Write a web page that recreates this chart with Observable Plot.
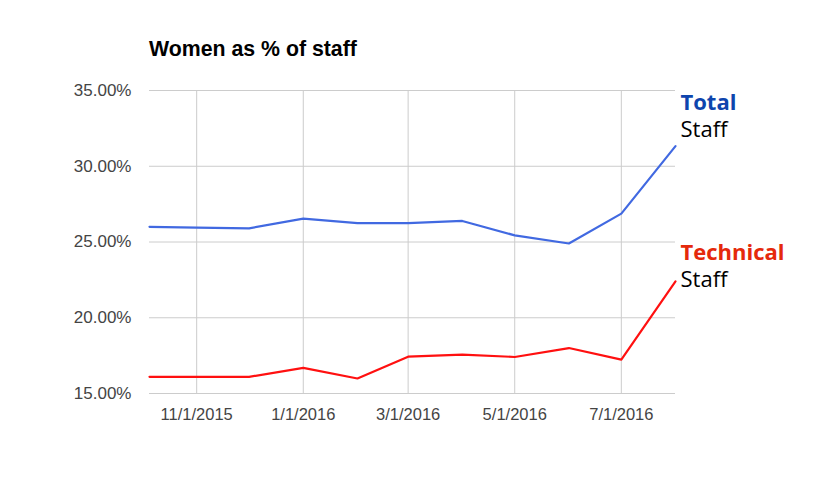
<!DOCTYPE html>
<html>
<head>
<meta charset="utf-8">
<script src="https://cdn.jsdelivr.net/npm/d3@7"></script>
<script src="https://cdn.jsdelivr.net/npm/@observablehq/plot@0.6"></script>
<style>
  html, body { margin: 0; padding: 0; background: #fff; }
  #wrap { position: relative; width: 827px; height: 485px; }
  #title { position: absolute; left: 149px; top: 37px; font: bold 21.3px "Liberation Sans", Arial, sans-serif; color: #000; white-space: nowrap; }
</style>
</head>
<body>
<div id="wrap">
  <div id="title">Women as % of staff</div>
</div>
<script>
const dates = ["2015-10-05","2015-11-01","2015-12-01","2016-01-01","2016-02-01","2016-03-01","2016-04-01","2016-05-01","2016-06-01","2016-07-01","2016-08-01"];
const totalStaff = [26.0, 25.95, 25.9, 26.54, 26.25, 26.25, 26.39, 25.44, 24.9, 26.87, 31.33];
const technicalStaff = [16.1, 16.1, 16.1, 16.69, 15.99, 17.43, 17.57, 17.41, 18.0, 17.24, 22.4];
const yTicks = [15, 20, 25, 30, 35];
const xTicks = ["2015-11-01","2016-01-01","2016-03-01","2016-05-01","2016-07-01"];

const rows = [];
dates.forEach((d, i) => {
  rows.push({date: new Date(d), value: totalStaff[i], series: "Total"});
  rows.push({date: new Date(d), value: technicalStaff[i], series: "Technical"});
});
const last = (s) => rows.filter(r => r.series === s).slice(-1);
const xt = xTicks.map(d => new Date(d));
const fmtDate = d3.utcFormat("%-m/%-d/%Y");
const labelFont = '"Open Sans", "Lato", sans-serif';

const chart = Plot.plot({
  width: 827,
  height: 485,
  marginLeft: 149,
  marginRight: 152,
  marginTop: 90,
  marginBottom: 92,
  style: {fontFamily: '"Liberation Sans", Arial, sans-serif', fontSize: "17px", color: "#444", background: "#fff"},
  x: {type: "utc", domain: [new Date(dates[0]), new Date(dates[dates.length - 1])], ticks: xt, tickFormat: fmtDate, tickSize: 0, tickPadding: 16, label: null},
  y: {domain: [15, 35], ticks: yTicks, tickFormat: d => d.toFixed(2) + "%", tickSize: 0, tickPadding: 18, label: null},
  marks: [
    Plot.gridX(xt, {stroke: "#ccc", strokeOpacity: 1, strokeWidth: 1}),
    Plot.gridY(yTicks, {stroke: "#ccc", strokeOpacity: 1, strokeWidth: 1}),
    Plot.axisX(xt, {tickSize: 0, tickPadding: 15, tickFormat: fmtDate, fill: "#444", fontSize: 16.5, label: null}),
    Plot.axisY(yTicks, {tickSize: 0, tickPadding: 18, tickFormat: d => d.toFixed(2) + "%", fill: "#444", fontSize: 17, label: null}),
    Plot.line(rows.filter(r => r.series === "Total"), {x: "date", y: "value", stroke: "#4169e1", strokeWidth: 2.2}),
    Plot.line(rows.filter(r => r.series === "Technical"), {x: "date", y: "value", stroke: "#ff1010", strokeWidth: 2.2}),
    Plot.text(last("Total"), {x: "date", y: "value", text: () => "Total", textAnchor: "start", lineAnchor: "bottom", dx: 5, dy: -36, fill: "#0e45ad", fontWeight: "bold", fontSize: 22, fontFamily: labelFont}),
    Plot.text(last("Total"), {x: "date", y: "value", text: () => "Staff", textAnchor: "start", lineAnchor: "bottom", dx: 5, dy: -9, fill: "#000", fontSize: 22, fontFamily: labelFont}),
    Plot.text(last("Technical"), {x: "date", y: "value", text: () => "Technical", textAnchor: "start", lineAnchor: "bottom", dx: 5, dy: -21, fill: "#e5290c", fontWeight: "bold", fontSize: 22, fontFamily: labelFont}),
    Plot.text(last("Technical"), {x: "date", y: "value", text: () => "Staff", textAnchor: "start", lineAnchor: "bottom", dx: 5, dy: 6, fill: "#000", fontSize: 22, fontFamily: labelFont})
  ]
});
chart.style.position = "absolute";
chart.style.left = "0";
chart.style.top = "0";
document.getElementById("wrap").prepend(chart);
</script>
</body>
</html>
